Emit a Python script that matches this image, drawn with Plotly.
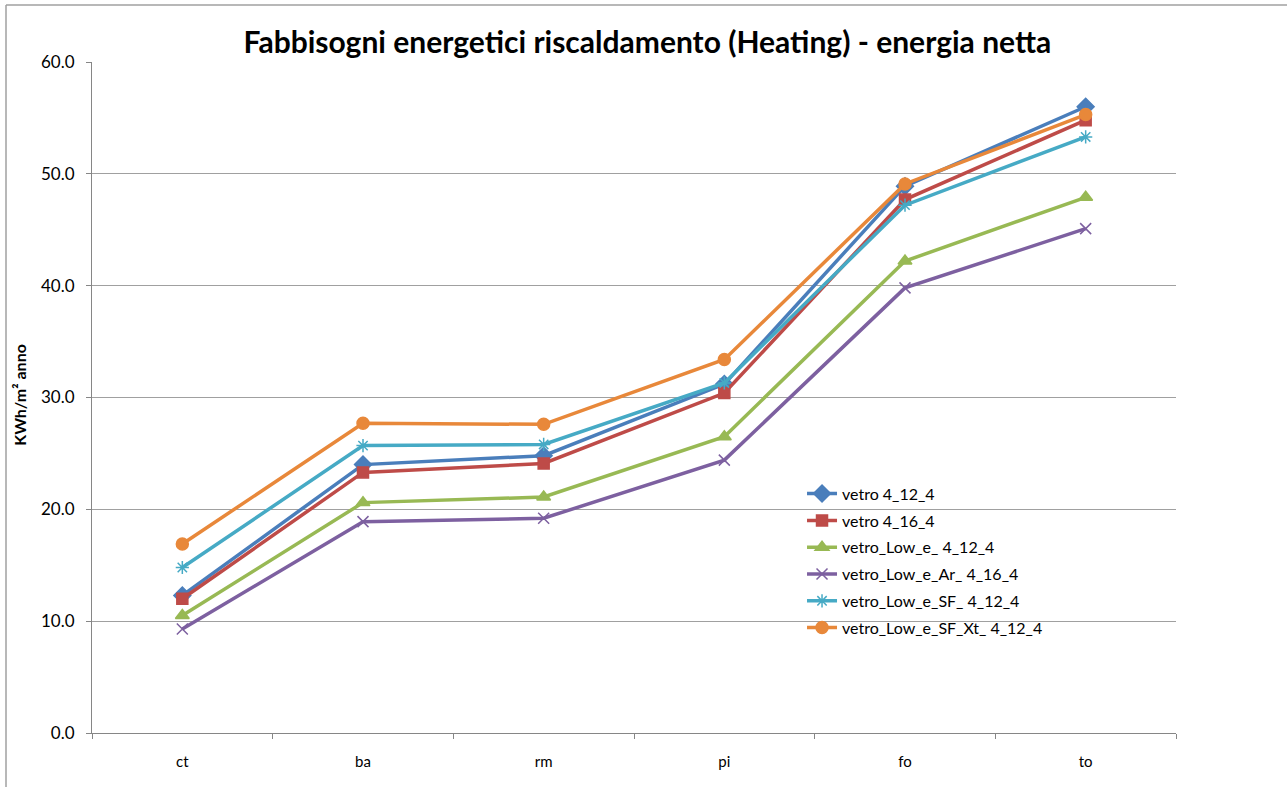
import plotly.graph_objects as go

# regioni / zone climatiche
categorie = ["ct", "ba", "rm", "pi", "fo", "to"]

vetro_4_12_4 = [12.3, 24.0, 24.8, 31.2, 48.9, 56.0]
vetro_4_16_4 = [12.0, 23.3, 24.1, 30.4, 47.7, 54.8]
vetro_low_e_4_12_4 = [10.5, 20.6, 21.1, 26.5, 42.2, 47.9]
vetro_low_e_ar_4_16_4 = [9.3, 18.9, 19.2, 24.4, 39.8, 45.1]
vetro_low_e_sf_4_12_4 = [14.8, 25.7, 25.8, 31.3, 47.2, 53.3]
vetro_low_e_sf_xt_4_12_4 = [16.9, 27.7, 27.6, 33.4, 49.1, 55.3]

serie = [
    ("vetro 4_12_4", vetro_4_12_4, "#4A7EBB", "diamond", 13),
    ("vetro 4_16_4", vetro_4_16_4, "#BE4B48", "square", 11),
    ("vetro_Low_e_ 4_12_4", vetro_low_e_4_12_4, "#98B954", "triangle-up", 12),
    ("vetro_Low_e_Ar_ 4_16_4", vetro_low_e_ar_4_16_4, "#7D60A0", "x-thin", 11),
    ("vetro_Low_e_SF_ 4_12_4", vetro_low_e_sf_4_12_4, "#46AAC5", "asterisk", 11),
    ("vetro_Low_e_SF_Xt_ 4_12_4", vetro_low_e_sf_xt_4_12_4, "#E8883A", "circle", 12),
]

fig = go.Figure()
for i, (nome, valori, colore, simbolo, dim) in enumerate(serie):
    fig.add_trace(go.Scatter(
        x=categorie, y=valori, name=nome, mode="lines+markers",
        legendgroup=str(i),
        line=dict(color=colore, width=3.5),
        marker=dict(symbol=simbolo, size=dim, color=colore,
                    line=dict(color=colore, width=1.5)),
    ))

L, R, T, B = 92, 111, 62, 54
fig.update_layout(
    width=1287, height=787,
    margin=dict(l=L, r=R, t=T, b=B),
    paper_bgcolor="white", plot_bgcolor="white",
    font=dict(family="Lato", size=14, color="black"),
    title=dict(text="<b>Fabbisogni energetici riscaldamento (Heating) - energia netta</b>",
               x=0.503, xanchor="center", y=1 - 42 / 787, yanchor="middle",
               font=dict(family="Lato", size=30, color="black")),
    legend=dict(x=0.655, y=0.382, xanchor="left", yanchor="top",
                bgcolor="rgba(0,0,0,0)", font=dict(family="Lato", size=16),
                tracegroupgap=3, itemwidth=30),
    showlegend=True,
)
fig.update_xaxes(
    type="category", range=[-0.5, 5.5], showgrid=False,
    showline=True, linecolor="#868686", linewidth=1,
    ticks="outside", tickson="boundaries", ticklen=5, tickcolor="#868686",
    tickfont=dict(family="Lato", size=15), ticklabelstandoff=15,
)
fig.update_yaxes(
    range=[0, 60], dtick=10, tickformat=".1f",
    showgrid=True, gridcolor="#A0A0A0", gridwidth=1,
    showline=True, linecolor="#868686", linewidth=1,
    ticks="outside", ticklen=5, tickcolor="#868686",
    tickfont=dict(family="Lato", size=17), zeroline=False,
    ticklabelstandoff=8,
)

fig.add_annotation(text="<b>KWh/m² anno</b>", textangle=-90,
                   xref="paper", yref="paper", x=(20 - L) / (1287 - L - R), y=0.504,
                   xanchor="center", yanchor="middle",
                   showarrow=False, font=dict(family="Lato", size=16))

# bordo del grafico (solo lati superiore e sinistro visibili)
pw, ph = 1287 - L - R, 787 - T - B
bx = (6 - L) / pw
by = (787 - B - 5) / ph
fig.add_shape(type="line", xref="paper", yref="paper", x0=bx, y0=by, x1=1.2, y1=by,
              line=dict(color="#A0A0A0", width=1.5))
fig.add_shape(type="line", xref="paper", yref="paper", x0=bx, y0=by, x1=bx, y1=-0.2,
              line=dict(color="#A0A0A0", width=1.5))

fig.write_html("out.html", config={"displayModeBar": False},
               post_script="document.body.style.margin='0';")
